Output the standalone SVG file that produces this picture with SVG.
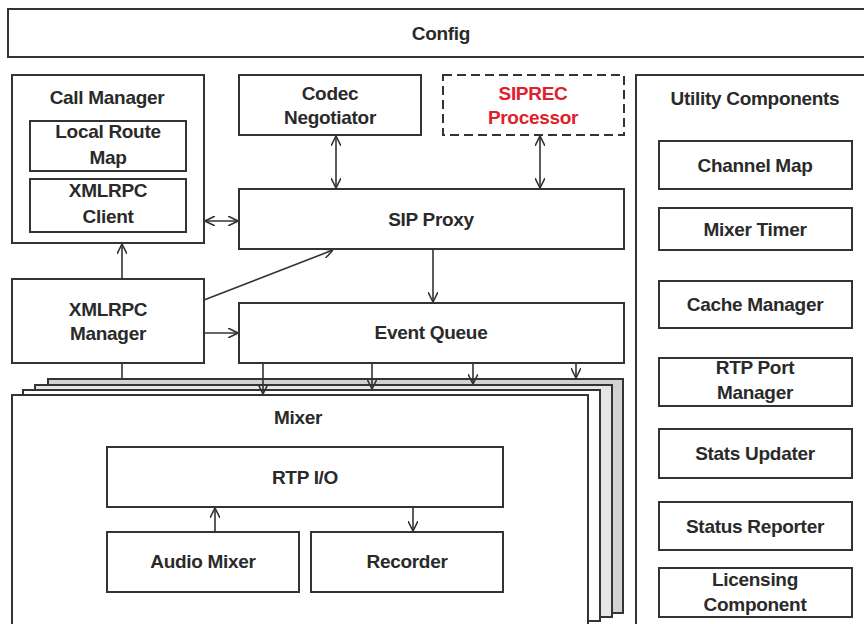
<svg xmlns="http://www.w3.org/2000/svg" width="864" height="624" viewBox="0 0 864 624">
<defs>
<style>
.box{fill:#fff;stroke:#333;stroke-width:2}
.dash{fill:#fff;stroke:#333;stroke-width:2;stroke-dasharray:9,5}
.t{font-family:"Liberation Sans",Arial,sans-serif;font-weight:bold;font-size:19px;fill:#2a2a2a;text-anchor:middle;letter-spacing:-0.3px}
.red{fill:#e0202a}
.c{stroke:#333;stroke-width:1.6;fill:none}
.a{marker-end:url(#ah)}
.b{marker-start:url(#ah);marker-end:url(#ah)}
</style>
<marker id="ah" viewBox="0 0 10 10" refX="10" refY="5" markerWidth="10" markerHeight="10" markerUnits="userSpaceOnUse" orient="auto-start-reverse">
<path d="M0,0 L10,5 L0,10" fill="none" stroke="#333" stroke-width="1.6"/>
</marker>
</defs>
<rect width="864" height="624" fill="#fff"/>

<g id="config">
<rect class="box" x="8" y="9" width="870" height="48"/>
<text class="t" x="441" y="40">Config</text>
</g>

<g id="call-manager">
<rect class="box" x="12" y="75" width="192" height="168"/>
<text class="t" x="107" y="104">Call Manager</text>
</g>
<g id="local-route-map">
<rect class="box" x="30" y="121" width="156" height="50"/>
<text class="t" x="108" y="138">Local Route</text>
<text class="t" x="108" y="164">Map</text>
</g>
<g id="xmlrpc-client">
<rect class="box" x="30" y="179" width="156" height="53"/>
<text class="t" x="108" y="197">XMLRPC</text>
<text class="t" x="108" y="223">Client</text>
</g>

<g id="codec-negotiator">
<rect class="box" x="239" y="75" width="182" height="60"/>
<text class="t" x="330" y="100">Codec</text>
<text class="t" x="330" y="124">Negotiator</text>
</g>
<g id="siprec-processor">
<rect class="dash" x="443" y="75" width="181" height="60"/>
<text class="t red" x="533" y="100">SIPREC</text>
<text class="t red" x="533" y="124">Processor</text>
</g>

<g id="sip-proxy">
<rect class="box" x="239" y="189" width="385" height="60"/>
<text class="t" x="431" y="226">SIP Proxy</text>
</g>

<g id="xmlrpc-manager">
<rect class="box" x="12" y="279" width="192" height="84"/>
<text class="t" x="108" y="316">XMLRPC</text>
<text class="t" x="108" y="340">Manager</text>
</g>

<g id="event-queue">
<rect class="box" x="239" y="303" width="385" height="60"/>
<text class="t" x="431" y="339">Event Queue</text>
</g>

<g id="utility-components">
<rect class="box" x="636" y="75" width="240" height="560"/>
<text class="t" x="755" y="105">Utility Components</text>
</g>
<g id="channel-map">
<rect class="box" x="659" y="141" width="193" height="48"/>
<text class="t" x="755" y="172">Channel Map</text>
</g>
<g id="mixer-timer">
<rect class="box" x="659" y="208" width="193" height="42"/>
<text class="t" x="755" y="236">Mixer Timer</text>
</g>
<g id="cache-manager">
<rect class="box" x="659" y="281" width="193" height="47"/>
<text class="t" x="755" y="311">Cache Manager</text>
</g>
<g id="rtp-port-manager">
<rect class="box" x="659" y="358" width="193" height="48"/>
<text class="t" x="755" y="374">RTP Port</text>
<text class="t" x="755" y="399">Manager</text>
</g>
<g id="stats-updater">
<rect class="box" x="659" y="429" width="193" height="49"/>
<text class="t" x="755" y="460">Stats Updater</text>
</g>
<g id="status-reporter">
<rect class="box" x="659" y="502" width="193" height="48"/>
<text class="t" x="755" y="533">Status Reporter</text>
</g>
<g id="licensing-component">
<rect class="box" x="659" y="568" width="193" height="49"/>
<text class="t" x="755" y="586">Licensing</text>
<text class="t" x="755" y="611">Component</text>
</g>

<g id="mixer">
<rect class="box" x="48" y="379" width="575" height="234" style="fill:#d2d2d2"/>
<rect class="box" x="35" y="385" width="577" height="232" style="fill:#e6e6e6"/>
<rect class="box" x="23" y="390" width="577" height="231"/>
<rect class="box" x="12" y="395" width="576" height="240"/>
<text class="t" x="298" y="424">Mixer</text>
</g>
<g id="rtp-io">
<rect class="box" x="107" y="447" width="396" height="60"/>
<text class="t" x="305" y="484">RTP I/O</text>
</g>
<g id="audio-mixer">
<rect class="box" x="107" y="532" width="192" height="60"/>
<text class="t" x="203" y="568">Audio Mixer</text>
</g>
<g id="recorder">
<rect class="box" x="311" y="532" width="192" height="60"/>
<text class="t" x="407" y="568">Recorder</text>
</g>

<g id="connectors">
<line class="c b" x1="336" y1="136" x2="336" y2="188"/>
<line class="c b" x1="540" y1="136" x2="540" y2="188"/>
<line class="c b" x1="205" y1="221" x2="238" y2="221"/>
<line class="c a" x1="122" y1="279" x2="122" y2="244"/>
<line class="c a" x1="204" y1="300" x2="333" y2="250"/>
<line class="c a" x1="204" y1="333" x2="238" y2="333"/>
<line class="c a" x1="433" y1="249" x2="433" y2="302"/>
<line class="c" x1="122" y1="363" x2="122" y2="379"/>
<line class="c a" x1="263" y1="363" x2="263" y2="394"/>
<line class="c a" x1="372" y1="363" x2="372" y2="389"/>
<line class="c a" x1="473" y1="363" x2="473" y2="384"/>
<line class="c a" x1="576" y1="363" x2="576" y2="378"/>
<line class="c a" x1="215" y1="532" x2="215" y2="508"/>
<line class="c a" x1="413" y1="507" x2="413" y2="531"/>
</g>
</svg>
